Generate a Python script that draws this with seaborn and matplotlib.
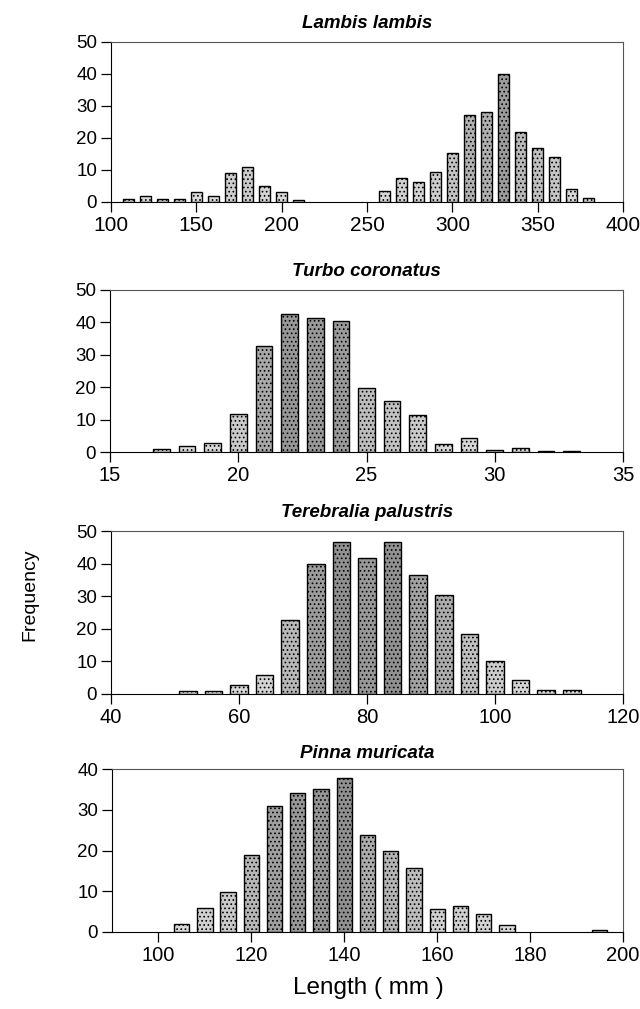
import matplotlib
matplotlib.use("Agg")
import matplotlib.pyplot as plt
import seaborn as sns
import pandas as pd

# ---- data ----
lambis_len = [110, 120, 130, 140, 150, 160, 170, 180, 190, 200, 210, 220, 230, 240, 250,
              260, 270, 280, 290, 300, 310, 320, 330, 340, 350, 360, 370, 380]
lambis_freq = [1, 2, 1, 1, 3, 2, 9, 11, 5, 3, 0.7, 0, 0, 0, 0,
               3.5, 7.5, 6.3, 9.4, 15.3, 27.2, 28.2, 40, 22, 17, 14, 4.2, 1.2]

turbo_len = [17, 18, 19, 20, 21, 22, 23, 24, 25, 26, 27, 28, 29, 30, 31, 32, 33]
turbo_freq = [0.9, 2, 2.9, 11.8, 32.8, 42.7, 41.5, 40.4, 19.6, 15.6, 11.3, 2.6, 4.4, 0.5, 1.1, 0.4, 0.4]

tere_len = [52, 56, 60, 64, 68, 72, 76, 80, 84, 88, 92, 96, 100, 104, 108, 112]
tere_freq = [0.8, 0.8, 2.9, 5.9, 22.8, 39.8, 46.7, 41.8, 46.7, 36.5, 30.4, 18.3, 10.2, 4.2, 1.1, 1.1]

pinna_len = [105, 110, 115, 120, 125, 130, 135, 140, 145, 150, 155, 160, 165, 170, 175, 195]
pinna_freq = [2, 6, 9.8, 18.9, 30.9, 34, 35, 37.8, 23.8, 19.8, 15.7, 5.7, 6.5, 4.5, 1.7, 0.6]

titles = ["Lambis lambis", "Turbo coronatus", "Terebralia palustris", "Pinna muricata"]
xlims = [(100, 400), (15, 35), (40, 120), (90, 200)]
xticks = [[100, 150, 200, 250, 300, 350, 400], [15, 20, 25, 30, 35],
          [40, 60, 80, 100, 120], [100, 120, 140, 160, 180, 200]]
ylims = [(0, 50), (0, 50), (0, 50), (0, 40)]
yticks = [[0, 10, 20, 30, 40, 50]] * 3 + [[0, 10, 20, 30, 40]]

series = [(lambis_len, lambis_freq), (turbo_len, turbo_freq),
          (tere_len, tere_freq), (pinna_len, pinna_freq)]

# ---- style ----
widths = [0.65, 0.65, 0.68, 0.66]
xtick_sizes = [15, 14.5, 14.5, 14.5]
title_pads = [10, 10, 10, 8]

sns.set_theme(style="ticks")
plt.rcParams["font.family"] = ["Liberation Sans", "DejaVu Sans"]
plt.rcParams["text.color"] = "black"
plt.rcParams["xtick.color"] = "black"
plt.rcParams["ytick.color"] = "black"
plt.rcParams["axes.labelcolor"] = "black"
plt.rcParams["hatch.color"] = "#333333"
plt.rcParams["hatch.linewidth"] = 0.7

fig = plt.figure(figsize=(6.4, 10.09), dpi=100)
W, H = 640, 1009
# axes boxes in pixels: left, top, right, bottom
boxes = [(111, 42, 623, 202), (110, 290, 623, 452), (111, 531, 623, 694), (112, 769, 623, 932)]

cmap = sns.light_palette("#8c8c8c", as_cmap=True)

for i, (xs, ys) in enumerate(series):
    l, t, r, b = boxes[i]
    ax = fig.add_axes([l / W, 1 - b / H, (r - l) / W, (b - t) / H])
    df = pd.DataFrame({"len": xs, "freq": ys})
    sns.barplot(data=df, x="len", y="freq", native_scale=True, width=widths[i],
                color="#bdbdbd", saturation=1, edgecolor="black", linewidth=1.0,
                hatch="....", ax=ax)
    top = ylims[i][1]
    for p in ax.patches:
        h = p.get_height()
        p.set_facecolor(cmap(min(1.0, 0.2 + 0.8 * h / top)))
        if h <= 0:
            p.set_visible(False)
    ax.set_xlim(*xlims[i])
    ax.set_ylim(*ylims[i])
    ax.set_xticks(xticks[i])
    ax.set_yticks(yticks[i])
    ax.set_xlabel("")
    ax.set_ylabel("")
    ax.tick_params(axis="both", direction="out", length=7, width=0.9, color="black")
    ax.tick_params(axis="x", labelsize=xtick_sizes[i], pad=3)
    ax.tick_params(axis="y", labelsize=13.5, pad=3)
    for s in ax.spines.values():
        s.set_visible(True)
        s.set_linewidth(0.8)
        s.set_color("black")
    ax.spines["top"].set_color("#555555")
    ax.spines["right"].set_color("#555555")
    ax.set_title(titles[i], fontsize=13.5, fontweight="bold", fontstyle="italic",
                 pad=title_pads[i])

fig.text(30 / W, 1 - 595 / H, "Frequency", rotation=90, ha="center", va="center", fontsize=14)
fig.text(368 / W, 1 - 988 / H, "Length ( mm )", ha="center", va="center", fontsize=17.5)

fig.savefig("out.png", dpi=100)
